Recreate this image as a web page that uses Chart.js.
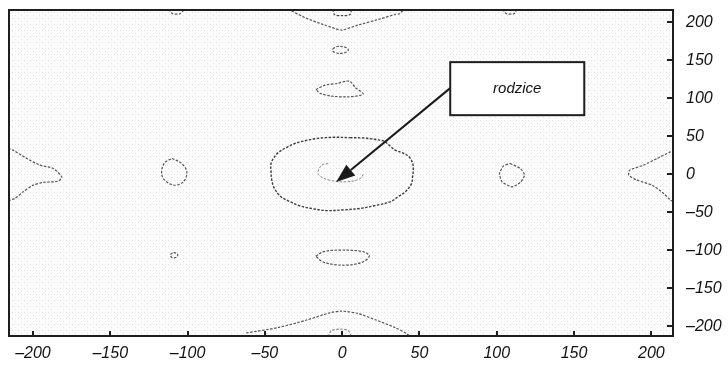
<!DOCTYPE html>
<html>
<head>
<meta charset="utf-8">
<script src="https://cdn.jsdelivr.net/npm/chart.js@4/dist/chart.umd.min.js"></script>
<style>
  html, body { margin: 0; padding: 0; background: #ffffff; }
  #wrap { width: 728px; height: 367px; }
</style>
</head>
<body>
<div id="wrap"><canvas id="c" width="728" height="367"></canvas></div>
<script>
// ---------- data ----------
const xTicks = [-200, -150, -100, -50, 0, 50, 100, 150, 200];
const yTicks = [-200, -150, -100, -50, 0, 50, 100, 150, 200];

// contour lines, [x, y] in axis units
const centralRing = [[5,48],[14,47.5],[22,45.5],[27,43.5],[31,37],[34,32],[39,28],[43,23.5],[45.5,15],[46,5],[45.5,-4],[45,-12],[41,-23],[36,-30],[31,-36.5],[22,-41],[12,-45],[1,-47],[-10,-48],[-19,-45.5],[-27,-42],[-34,-36],[-40,-29],[-44,-18],[-45.5,-8],[-46,3],[-46,14],[-44,22],[-41,29],[-36,35],[-31,40],[-24,44],[-16,47],[-5,48.5],[5,48]];
const innerCore = [[-9,14],[-13,12],[-15.5,4],[-15,-1.5],[-8,-8],[3,-10],[11.5,-6],[14,1]];
const leftLoop = [[-110,20.7],[-103.8,14],[-100.5,3],[-102.7,-10.1],[-109.2,-14.5],[-115.7,-5.7],[-116.7,5.3],[-114.6,15.4],[-110,20.7]];
const rightLoop = [[108.7,14],[115.2,7.5],[118,-1.3],[115.2,-10.9],[109.8,-16.7],[103.4,-10.1],[101.8,0.9],[104.4,10.9],[108.7,14]];
const leftWedge = [[-216,34],[-213,31.6],[-204,20.7],[-195.5,11.8],[-187,7.5],[-181.4,-3.6],[-183.6,-9.2],[-193.3,-10.9],[-199.8,-14.5],[-206.3,-23.3],[-211.7,-32],[-216,-35]];
const rightWedge = [[215,31],[212.3,29.3],[203.7,20.7],[195,11.8],[186,5.3],[185.4,-1.3],[190.7,-7.9],[200.5,-14.5],[208,-25.4],[212.3,-34.2],[215,-37]];
const topV = [[-35,217],[-23,205],[-11,196],[-0.5,189.5],[10,196],[25,204.5],[34,210],[37,211],[40,217]];
const topBlob = [[-6,217],[-5,210],[0,208.5],[5,210],[6,217]];
const topLeftMark = [[-112,217],[-110,211.5],[-105,211],[-102,217]];
const topRightMark = [[104,217],[106,211.5],[111,211],[113,217]];
const upperDot = [[-6,165],[-3,168],[2,167],[4,163],[1,159.5],[-4,159.5],[-6,162],[-6,165]];
const upperLoop = [[-17,111.4],[-11,117.1],[-3.5,119.3],[4.6,122.4],[8.5,114],[13.6,105.3],[4,101.7],[-6.5,102.6],[-14,106.2],[-17,111.4]];
const lowerLoop = [[-17,-108],[-12,-102],[-3,-100],[8,-100.5],[15,-103],[17.5,-108],[14,-115],[5,-119.5],[-5,-119],[-13,-115],[-17,-108]];
const tinyLoop = [[-109,-103],[-106.5,-105],[-107,-109],[-110,-110],[-111,-106],[-109,-103]];
const bottomArch = [[-62,-209],[-41,-201.7],[-23,-192],[-8,-182.5],[-0.5,-180.3],[10,-183.3],[22,-192],[34,-201.7],[41.6,-209.6],[44,-214]];
const bottomInner = [[-9,-214],[-7,-206],[-1,-204],[4,-206],[6,-214]];

// annotation
const noteText = 'rodzice';
const noteBox = { x1: 69.9, y1: 147.4, x2: 156.6, y2: 77.6 };
const arrowFrom = { x: 69.9, y: 113.2 };
const arrowTo = { x: -3.9, y: -10.5 };

// ---------- chart ----------
function pts(a) { return a.map(p => ({ x: p[0], y: p[1] })); }
function line(arr, opts) {
  return Object.assign({
    data: pts(arr), showLine: true, pointRadius: 0, borderColor: '#555555',
    borderWidth: 1.2, borderDash: [2.5, 1.5], tension: 0.3, fill: false
  }, opts || {});
}
const datasets = [
  line(centralRing, { borderColor: '#3c3c3c', borderWidth: 1.4, tension: 0.35 }),
  line(innerCore, { borderColor: '#8a8a8a', borderWidth: 1, tension: 0.4 }),
  line(leftLoop, { tension: 0.35 }),
  line(rightLoop, { tension: 0.2 }),
  line(leftWedge, { tension: 0.25 }),
  line(rightWedge, { tension: 0.2 }),
  line(topV, { tension: 0.15 }),
  line(topBlob, { borderColor: '#444', tension: 0.3 }),
  line(topLeftMark, { tension: 0.3 }),
  line(topRightMark, { tension: 0.3 }),
  line(upperDot, { tension: 0.4 }),
  line(upperLoop, { tension: 0.3 }),
  line(lowerLoop, { tension: 0.35 }),
  line(tinyLoop, { tension: 0.4 }),
  line(bottomArch, { tension: 0.25 }),
  line(bottomInner, { borderColor: '#8a8a8a', tension: 0.3 })
];

function fmt(v) { return v < 0 ? '\u2013' + Math.abs(v) : String(v); }
const tickFont = { family: '"Liberation Sans", Arial, sans-serif', size: 16, style: 'italic' };

function makePattern(ctx) {
  const c = document.createElement('canvas');
  c.width = 6; c.height = 6;
  const g = c.getContext('2d');
  g.fillStyle = '#fcfcfc'; g.fillRect(0, 0, 6, 6);
  g.fillStyle = '#dcdcdc'; g.fillRect(0, 0, 1, 1);
  g.fillStyle = '#e6e6e6'; g.fillRect(3, 3, 1, 1);
  g.fillStyle = '#ececec'; g.fillRect(3, 0, 1, 1);
  return ctx.createPattern(c, 'repeat');
}

const decor = {
  id: 'decor',
  beforeDraw(chart) {
    const { ctx, chartArea: a } = chart;
    ctx.save();
    ctx.fillStyle = '#ffffff';
    ctx.fillRect(0, 0, chart.width, chart.height);
    ctx.fillStyle = makePattern(ctx);
    ctx.fillRect(a.left, a.top, a.right - a.left, a.bottom - a.top);
    ctx.restore();
  },
  afterDatasetsDraw(chart) {
    const { ctx, chartArea: a, scales: { x, y } } = chart;
    ctx.save();
    // frame
    ctx.strokeStyle = '#1e1e1e';
    ctx.lineWidth = 2;
    ctx.strokeRect(a.left, a.top, a.right - a.left, a.bottom - a.top);
    // inward ticks
    ctx.beginPath();
    xTicks.forEach(v => { const px = Math.round(x.getPixelForValue(v)); ctx.moveTo(px, a.bottom); ctx.lineTo(px, a.bottom - 5); });
    yTicks.forEach(v => { const py = Math.round(y.getPixelForValue(v)); ctx.moveTo(a.right, py); ctx.lineTo(a.right - 6, py); });
    ctx.stroke();
    // arrow
    const fx = x.getPixelForValue(arrowFrom.x), fy = y.getPixelForValue(arrowFrom.y);
    const tx = x.getPixelForValue(arrowTo.x), ty = y.getPixelForValue(arrowTo.y);
    const ang = Math.atan2(ty - fy, tx - fx);
    const headLen = 19, headW = 7;
    const bx = tx - headLen * Math.cos(ang), by = ty - headLen * Math.sin(ang);
    ctx.strokeStyle = '#1a1a1a';
    ctx.lineWidth = 2;
    ctx.beginPath(); ctx.moveTo(fx, fy); ctx.lineTo(bx, by); ctx.stroke();
    ctx.fillStyle = '#1a1a1a';
    ctx.beginPath();
    ctx.moveTo(tx, ty);
    ctx.lineTo(bx + headW * Math.sin(ang), by - headW * Math.cos(ang));
    ctx.lineTo(bx - headW * Math.sin(ang), by + headW * Math.cos(ang));
    ctx.closePath(); ctx.fill();
    // box
    const l = x.getPixelForValue(noteBox.x1), r = x.getPixelForValue(noteBox.x2);
    const t = y.getPixelForValue(noteBox.y1), b = y.getPixelForValue(noteBox.y2);
    ctx.fillStyle = '#ffffff';
    ctx.fillRect(l, t, r - l, b - t);
    ctx.strokeStyle = '#1e1e1e';
    ctx.lineWidth = 2;
    ctx.strokeRect(l, t, r - l, b - t);
    ctx.fillStyle = '#111111';
    ctx.font = 'italic 15px "Liberation Sans", Arial, sans-serif';
    ctx.textAlign = 'center';
    ctx.textBaseline = 'middle';
    ctx.fillText(noteText, (l + r) / 2, (t + b) / 2);
    ctx.restore();
  }
};

new Chart(document.getElementById('c'), {
  type: 'scatter',
  data: { datasets },
  options: {
    responsive: false,
    animation: false,
    devicePixelRatio: 1,
    layout: { padding: { left: 9, top: 10, right: 0, bottom: 0 } },
    plugins: { legend: { display: false }, tooltip: { enabled: false } },
    scales: {
      x: {
        type: 'linear', position: 'bottom', min: -215.5, max: 214,
        afterBuildTicks: s => { s.ticks = xTicks.map(v => ({ value: v })); },
        afterFit: s => { s.height = 31; s.paddingLeft = 0; s.paddingRight = 0; },
        grid: { display: false, drawTicks: false },
        border: { display: false },
        ticks: { font: tickFont, color: '#111111', padding: 8, maxRotation: 0, autoSkip: false, callback: fmt }
      },
      y: {
        type: 'linear', position: 'right', min: -213, max: 216,
        afterBuildTicks: s => { s.ticks = yTicks.map(v => ({ value: v })); },
        afterFit: s => { s.width = 55; s.paddingTop = 0; s.paddingBottom = 0; },
        grid: { display: false, drawTicks: false },
        border: { display: false },
        ticks: { font: tickFont, color: '#111111', padding: 13, autoSkip: false, callback: fmt }
      }
    }
  },
  plugins: [decor]
});
</script>
</body>
</html>
